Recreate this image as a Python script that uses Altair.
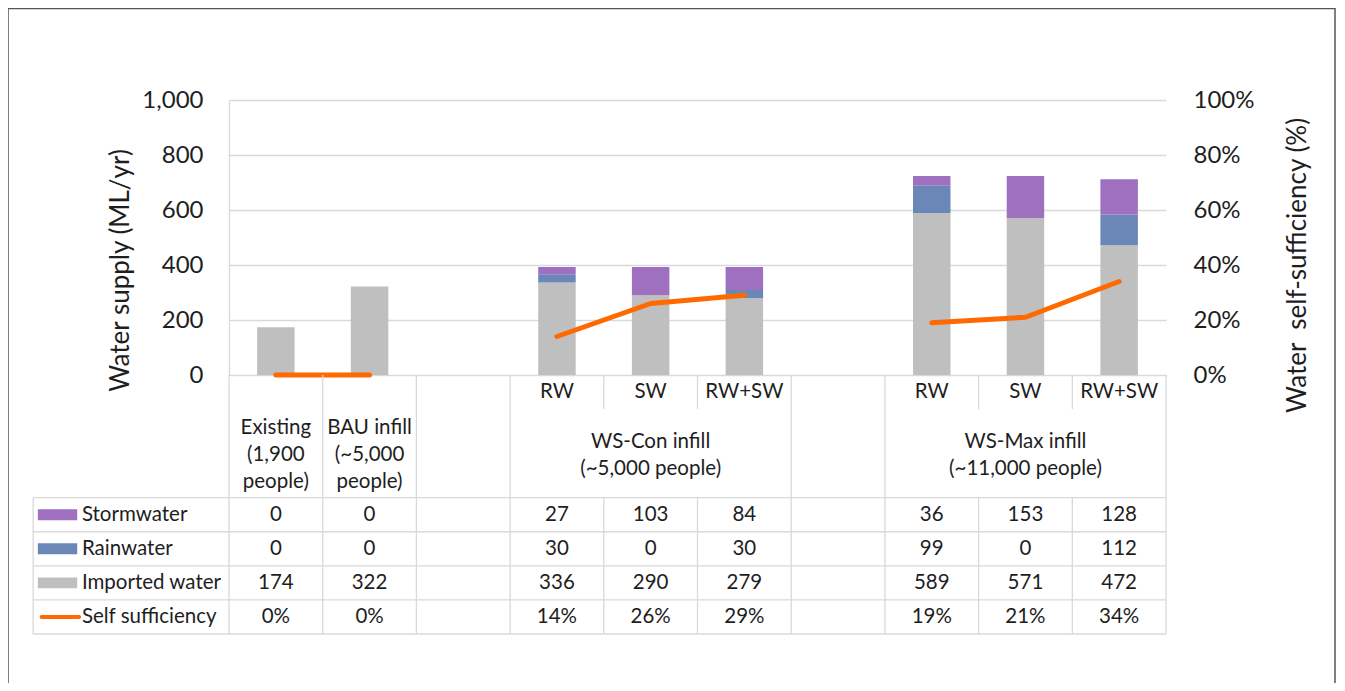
import altair as alt
import pandas as pd

# ---------------- data ----------------
columns = ["Existing", "BAU infill", "", "RW", "SW", "RW+SW", "", "RW", "SW", "RW+SW"]
groups = ["Existing", "BAU", "", "WS-Con", "WS-Con", "WS-Con", "", "WS-Max", "WS-Max", "WS-Max"]
group_labels = {
    "Existing": ["Existing", "(1,900", "people)"],
    "BAU": ["BAU infill", "(~5,000", "people)"],
    "WS-Con": ["WS-Con infill", "(~5,000 people)"],
    "WS-Max": ["WS-Max infill", "(~11,000 people)"],
}
line_groups = ["now", "now", "", "con", "con", "con", "", "max", "max", "max"]
stormwater = [0, 0, None, 27, 103, 84, None, 36, 153, 128]
rainwater = [0, 0, None, 30, 0, 30, None, 99, 0, 112]
imported = [174, 322, None, 336, 290, 279, None, 589, 571, 472]
self_sufficiency = [0, 0, None, 14, 26, 29, None, 19, 21, 34]

series_names = ["Stormwater", "Rainwater", "Imported water"]
series_values = [stormwater, rainwater, imported]
series_colors = ["#9e70bf", "#6a87b7", "#bfbfbf"]
line_name = "Self sufficiency"
line_color = "#ff6a00"
y_ticks = [0, 200, 400, 600, 800, 1000]
pct_ticks = [0, 0.2, 0.4, 0.6, 0.8, 1.0]

# ---------------- layout constants (table geometry, in scale units) ----------------
N = len(columns)
BAR_HALF = 0.2
ROW_EDGES = [0, 1, 3.6, 4.6, 5.6, 6.6, 7.6]
LINE_STEP = 0.79
LABEL_X0 = -2.09
GRID = "#d9d9d9"
TXT = "#1e1e1e"
FS_TABLE = 20.5

# ---------------- frames ----------------
bar_rows = []
for i in range(N):
    if imported[i] is None:
        continue
    base = 0
    for name, vals in [("Imported water", imported), ("Rainwater", rainwater), ("Stormwater", stormwater)]:
        v = vals[i]
        bar_rows.append({"x0": i + 0.5 - BAR_HALF, "x1": i + 0.5 + BAR_HALF,
                         "y0": base, "y1": base + v, "series": name})
        base += v
bar_df = pd.DataFrame(bar_rows)

line_df = pd.DataFrame([
    {"xc": i + 0.5, "pct": self_sufficiency[i] / 100, "grp": line_groups[i]}
    for i in range(N) if self_sufficiency[i] is not None
])

# table lines
rules = []
for b in range(N + 1):
    partial = 1 <= b <= N - 1 and groups[b - 1] == groups[b] and groups[b] != ""
    if partial:
        rules.append({"x": b, "x2": b, "y": ROW_EDGES[0], "y2": ROW_EDGES[1]})
        rules.append({"x": b, "x2": b, "y": ROW_EDGES[2], "y2": ROW_EDGES[-1]})
    else:
        rules.append({"x": b, "x2": b, "y": ROW_EDGES[0], "y2": ROW_EDGES[-1]})
rules.append({"x": LABEL_X0, "x2": LABEL_X0, "y": ROW_EDGES[2], "y2": ROW_EDGES[-1]})
for yv in ROW_EDGES[2:]:
    rules.append({"x": LABEL_X0, "x2": N, "y": yv, "y2": yv})
rule_df = pd.DataFrame(rules)

# centered text cells
cells = []
for i in range(N):
    if groups[i] in ("WS-Con", "WS-Max"):
        cells.append({"x": i + 0.5, "y": (ROW_EDGES[0] + ROW_EDGES[1]) / 2, "t": columns[i]})
seen = {}
for i, g in enumerate(groups):
    if g:
        seen.setdefault(g, []).append(i)
mid = (ROW_EDGES[1] + ROW_EDGES[2]) / 2
for g, idx in seen.items():
    cx = (idx[0] + idx[-1]) / 2 + 0.5
    lines = group_labels[g]
    n = len(lines)
    for k, txt in enumerate(lines):
        cells.append({"x": cx, "y": mid + 0.05 + (k - (n - 1) / 2) * LINE_STEP, "t": txt})
row_series = series_values + [self_sufficiency]
for r, vals in enumerate(row_series):
    yc = (ROW_EDGES[2 + r] + ROW_EDGES[3 + r]) / 2
    for i, v in enumerate(vals):
        if v is None:
            continue
        t = f"{v}%" if r == 3 else f"{v}"
        cells.append({"x": i + 0.5, "y": yc, "t": t})
cell_df = pd.DataFrame(cells)

label_rows = []
for r, name in enumerate(series_names + [line_name]):
    yc = (ROW_EDGES[2 + r] + ROW_EDGES[3 + r]) / 2
    label_rows.append({"x": -1.57, "y": yc, "t": name, "series": name,
                       "sx0": -2.04, "sx1": -1.62, "sy0": yc - 0.16, "sy1": yc + 0.16,
                       "lx0": -2.0, "lx1": -1.6})
label_df = pd.DataFrame(label_rows)

# ---------------- chart ----------------
xs = alt.Scale(domain=[0, N])
tab = alt.Scale(domain=[0, ROW_EDGES[-1]], range=[275, 534])
color_scale = alt.Scale(domain=series_names, range=series_colors)

frame = alt.Chart(pd.DataFrame({"a": [0]})).mark_rect(
    fill="transparent", stroke="#555555", strokeWidth=1.5
).encode(x=alt.value(-221), x2=alt.value(1106), y=alt.value(-91.5), y2=alt.value(640))

bars = alt.Chart(bar_df).mark_rect().encode(
    x=alt.X("x0:Q", scale=xs, axis=None),
    x2="x1:Q",
    y=alt.Y("y0:Q", scale=alt.Scale(domain=[0, 1000]),
            axis=alt.Axis(orient="left", values=y_ticks, format=",.0f", grid=True,
                          gridColor=GRID, gridWidth=1.3, domain=True, domainColor=GRID,
                          domainWidth=1.3, ticks=False, labelFontSize=24, labelColor=TXT,
                          labelPadding=26, title="Water supply (ML/yr)", titleFontSize=26,
                          titleFontWeight="normal", titleColor=TXT, titleX=-109, titleY=170,
                          titleAngle=270, titleAlign="center", titleBaseline="middle")),
    y2="y1:Q",
    color=alt.Color("series:N", scale=color_scale, legend=None),
)

line = alt.Chart(line_df).mark_line(color=line_color, strokeWidth=5, strokeCap="round",
                                    strokeJoin="round").encode(
    x=alt.X("xc:Q", scale=xs, axis=None),
    y=alt.Y("pct:Q", scale=alt.Scale(domain=[0, 1]),
            axis=alt.Axis(orient="right", values=pct_ticks, format=".0%", grid=False,
                          domain=False, ticks=False, labelFontSize=24, labelColor=TXT,
                          labelPadding=27, title="Water\u00a0 self-sufficiency (%)",
                          titleFontSize=26, titleFontWeight="normal", titleColor=TXT,
                          titleX=131, titleY=165, titleAngle=270, titleAlign="center",
                          titleBaseline="middle")),
    detail="grp:N",
)

tab_rules = alt.Chart(rule_df).mark_rule(color=GRID, strokeWidth=1.3).encode(
    x=alt.X("x:Q", scale=xs, axis=None), x2="x2:Q",
    y=alt.Y("y:Q", scale=tab, axis=None), y2="y2:Q",
)
tab_text = alt.Chart(cell_df).mark_text(fontSize=FS_TABLE, color=TXT, align="center",
                                        baseline="middle").encode(
    x=alt.X("x:Q", scale=xs, axis=None),
    y=alt.Y("y:Q", scale=tab, axis=None),
    text="t:N",
)
lab_text = alt.Chart(label_df).mark_text(fontSize=FS_TABLE, color=TXT, align="left",
                                         baseline="middle").encode(
    x=alt.X("x:Q", scale=xs, axis=None),
    y=alt.Y("y:Q", scale=tab, axis=None),
    text="t:N",
)
swatch = alt.Chart(label_df).transform_filter(
    alt.FieldOneOfPredicate(field="series", oneOf=series_names)
).mark_rect().encode(
    x=alt.X("sx0:Q", scale=xs, axis=None), x2="sx1:Q",
    y=alt.Y("sy0:Q", scale=tab, axis=None), y2="sy1:Q",
    color=alt.Color("series:N", scale=color_scale, legend=None),
)
line_swatch = alt.Chart(label_df).transform_filter(
    alt.FieldEqualPredicate(field="series", equal=line_name)
).mark_rule(color=line_color, strokeWidth=4, strokeCap="round").encode(
    x=alt.X("lx0:Q", scale=xs, axis=None), x2="lx1:Q",
    y=alt.Y("y:Q", scale=tab, axis=None),
)

table = alt.layer(tab_rules, tab_text, lab_text, swatch, line_swatch)

chart = alt.layer(frame, bars, line, table).resolve_scale(y="independent").properties(
    width=937, height=275, autosize="none",
    padding={"left": 221, "top": 92, "right": 170, "bottom": 308},
).configure(font="Lato").configure_view(stroke="transparent")

chart.save("out.html", embed_options={"renderer": "svg", "actions": False})
